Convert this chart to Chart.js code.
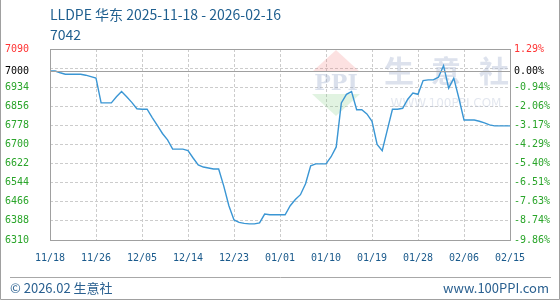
<!DOCTYPE html>
<html>
<head>
<meta charset="utf-8">
<script src="https://cdn.jsdelivr.net/npm/chart.js@4"></script>
<style>
  body { margin: 0; background: #fff; }
  #wrap { width: 560px; height: 300px; }
</style>
</head>
<body>
<div id="wrap"><canvas id="chart" width="560" height="300"></canvas></div>
<script>
// tick labels on the date axis, one every 9 points
const xLabels = ['11/18', '11/26', '12/05', '12/14', '12/23', '01/01', '01/10', '01/19', '01/28', '02/06', '02/15'];

// LLDPE east-china price, daily
const prices = [
  7000, 7000, 6993, 6987, 6987, 6987, 6987, 6983, 6977, 6971,
  6870, 6870, 6870, 6895, 6916, 6895, 6872, 6846, 6844, 6844,
  6810, 6778, 6745, 6719, 6681, 6681, 6681, 6675, 6645, 6617,
  6608, 6604, 6600, 6600, 6530, 6450, 6392, 6382, 6378, 6376,
  6376, 6380, 6416, 6413, 6413, 6413, 6413, 6450, 6475, 6495,
  6540, 6613, 6621, 6621, 6621, 6650, 6690, 6870, 6905, 6916,
  6842, 6842, 6825, 6795, 6700, 6675, 6760, 6844, 6844, 6848,
  6885, 6910, 6905, 6961, 6964, 6964, 6975, 7022, 6930, 6971,
  6889, 6800, 6800, 6800, 6795, 6788, 6780, 6776, 6776, 6776,
  6776
];

const yTicks = [6310, 6388, 6466, 6544, 6622, 6700, 6778, 6856, 6934, 7000, 7090];
const extraGrid = [7012];
const baseValue = 7000;
const yMin = 6310;
const yMax = 7090;

function tickColor(v) {
  if (v === yMax) return '#ff3333';
  if (v === baseValue) return '#000000';
  return '#2aa52a';
}

const framePlugin = {
  id: 'frame',
  beforeDatasetsDraw(chart) {
    const ctx = chart.ctx;
    ctx.save();
    // watermark logo
    ctx.fillStyle = 'rgba(240,120,120,0.22)';
    ctx.beginPath();
    ctx.moveTo(336, 50); ctx.lineTo(360, 72); ctx.lineTo(312, 72); ctx.closePath();
    ctx.fill();
    ctx.fillStyle = 'rgba(120,200,120,0.22)';
    ctx.beginPath();
    ctx.moveTo(312, 94); ctx.lineTo(360, 94); ctx.lineTo(336, 116); ctx.closePath();
    ctx.fill();
    ctx.fillStyle = 'rgba(150,165,200,0.35)';
    ctx.font = 'bold 22px "DejaVu Serif"';
    ctx.textAlign = 'center';
    ctx.textBaseline = 'middle';
    ctx.fillText('PPI', 336, 84);
    ctx.fillStyle = 'rgba(180,190,215,0.45)';
    ctx.font = 'bold 30px "Noto Sans CJK SC"';
    ctx.fillText('生', 399, 71);
    ctx.fillText('意', 446, 71);
    ctx.fillText('社', 494, 71);
    ctx.font = '12px "DejaVu Sans"';
    ctx.fillStyle = 'rgba(185,195,215,0.4)';
    ctx.fillText('WWW.100PPI.COM', 446, 104);
    ctx.restore();
  },
  afterDraw(chart) {
    const ctx = chart.ctx;
    const a = chart.chartArea;
    const y = chart.scales.y;
    ctx.save();
    // base line
    ctx.strokeStyle = '#a0a0a0';
    ctx.lineWidth = 1;
    const by = Math.round(y.getPixelForValue(baseValue)) + 0.5;
    ctx.beginPath(); ctx.moveTo(a.left, by); ctx.lineTo(a.right, by); ctx.stroke();
    // plot frame
    ctx.strokeRect(Math.round(a.left) + 0.5, Math.round(a.top) + 0.5, Math.round(a.right - a.left), Math.round(a.bottom - a.top));
    // title
    ctx.fillStyle = '#1f5f8f';
    ctx.font = '14px "Noto Sans CJK SC"';
    ctx.textAlign = 'left';
    ctx.textBaseline = 'middle';
    ctx.fillText('LLDPE 华东 2025-11-18 - 2026-02-16', 50, 15);
    ctx.fillText('7042', 50, 35);
    // footer
    ctx.strokeStyle = '#a8a8a8';
    ctx.beginPath(); ctx.moveTo(10, 277.5); ctx.lineTo(551, 277.5); ctx.stroke();
    ctx.fillStyle = '#2a6090';
    ctx.font = '13px "Noto Sans CJK SC"';
    ctx.fillText('© 2026.02 生意社', 10, 288);
    ctx.textAlign = 'right';
    ctx.fillText('www.100PPI.com', 549, 288);
    // outer border
    ctx.strokeStyle = '#a0a0a0';
    ctx.beginPath();
    ctx.moveTo(0.5, 0); ctx.lineTo(0.5, 299.5); ctx.lineTo(559.5, 299.5); ctx.lineTo(559.5, 0);
    ctx.stroke();
    ctx.restore();
  }
};

const monoFont = { family: '"DejaVu Sans Mono"', size: 10 };

new Chart(document.getElementById('chart'), {
  type: 'line',
  data: {
    datasets: [{
      data: prices.map((p, i) => ({ x: i, y: p })),
      borderColor: '#3a96d4',
      borderWidth: 1.4,
      pointRadius: 0,
      tension: 0,
      fill: false
    }]
  },
  options: {
    responsive: false,
    animation: false,
    layout: { padding: { left: 5, top: 49, right: 0, bottom: 0 } },
    plugins: { legend: { display: false }, tooltip: { enabled: false } },
    scales: {
      x: {
        type: 'linear',
        min: 0,
        max: prices.length - 1,
        afterBuildTicks: s => { s.ticks = xLabels.map((_, i) => ({ value: i * 9 })); },
        afterFit: s => { s.height = 60; },
        grid: { color: '#cccccc', drawTicks: false },
        border: { display: false, dash: [3, 2] },
        ticks: {
          autoSkip: false, maxRotation: 0, padding: 12,
          font: monoFont, color: '#1a5a8c',
          callback: (v, i) => xLabels[i]
        }
      },
      y: {
        position: 'left',
        min: yMin,
        max: yMax,
        afterBuildTicks: s => {
          s.ticks = yTicks.concat(extraGrid).sort((a, b) => a - b).map(v => ({ value: v }));
        },
        afterFit: s => { s.width = 45; },
        grid: { color: '#cccccc', drawTicks: false },
        border: { display: false, dash: [3, 2] },
        ticks: {
          autoSkip: false, crossAlign: 'far', padding: 4,
          font: monoFont,
          color: c => tickColor(c.tick.value),
          callback: v => yTicks.includes(v) ? String(v) : ''
        }
      },
      y2: {
        position: 'right',
        min: yMin,
        max: yMax,
        afterBuildTicks: s => { s.ticks = yTicks.map(v => ({ value: v })); },
        afterFit: s => { s.width = 50; },
        grid: { display: false, drawTicks: false },
        border: { display: false },
        ticks: {
          autoSkip: false, padding: 4,
          font: monoFont,
          color: c => tickColor(c.tick.value),
          callback: v => ((v / baseValue - 1) * 100).toFixed(2) + '%'
        }
      }
    }
  },
  plugins: [framePlugin]
});
</script>
</body>
</html>
